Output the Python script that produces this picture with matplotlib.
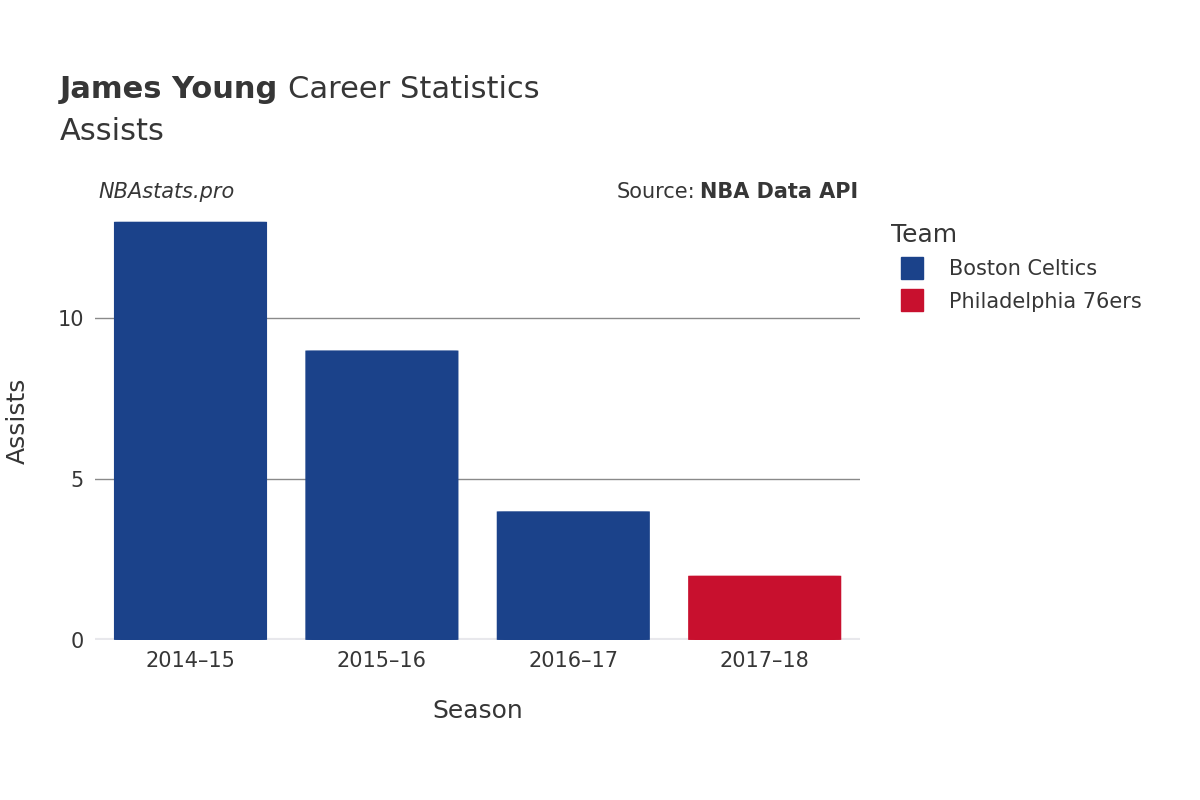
import matplotlib
matplotlib.use("Agg")
import matplotlib.pyplot as plt
from matplotlib.patches import FancyBboxPatch
from matplotlib.lines import Line2D

seasons = ["2014–15", "2015–16", "2016–17", "2017–18"]
assists = [13, 9, 4, 2]
teams = ["Boston Celtics", "Boston Celtics", "Boston Celtics", "Philadelphia 76ers"]
team_colors = {"Boston Celtics": "#1b428a", "Philadelphia 76ers": "#c8102e"}
legend_teams = ["Boston Celtics", "Philadelphia 76ers"]

txt = "#363636"
fig = plt.figure(figsize=(12, 8), dpi=100)
ax = fig.add_axes([0.079, 0.2, 0.638, 0.547])
ax.set_xlim(-0.5, 3.5)
ax.set_ylim(0, 13.6)

for y in (5, 10):
    ax.axhline(y, color="#8a8a8a", lw=1, zorder=0)
ax.axhline(0, color="#e8e8ec", lw=3, zorder=1)

w = 0.8
for i, (v, t) in enumerate(zip(assists, teams)):
    ax.add_patch(FancyBboxPatch((i - w / 2, 0), w, v,
                                boxstyle="round,pad=0,rounding_size=0.04",
                                mutation_aspect=1 / 8,
                                fc=team_colors[t], ec="none", zorder=2))

ax.set_xticks(range(len(seasons)))
ax.set_xticklabels(seasons)
ax.set_yticks([0, 5, 10])
ax.tick_params(length=0, labelsize=15, colors=txt, pad=8)
for s in ax.spines.values():
    s.set_visible(False)
ax.set_xlabel("Season", fontsize=18, color=txt, labelpad=20)
ax.set_ylabel("Assists", fontsize=18, color=txt, labelpad=20)

# title
r = fig.canvas.get_renderer()
t1 = fig.text(60 / 1200, 1 - 89 / 800, "James Young", fontsize=22, weight="bold", color=txt, va="center")
bb = t1.get_window_extent(r)
fig.text(bb.x1 / 1200 + 0.008, 1 - 89 / 800, "Career Statistics", fontsize=22, color=txt, va="center")
fig.text(60 / 1200, 1 - 132 / 800, "Assists", fontsize=22, color=txt, va="center")

fig.text(98 / 1200, 1 - 192 / 800, "NBAstats.pro", fontsize=15, style="italic", color=txt, va="center")
s2 = fig.text(858 / 1200, 1 - 192 / 800, "NBA Data API", fontsize=15, weight="bold", color=txt, va="center", ha="right")
bb2 = s2.get_window_extent(r)
fig.text(bb2.x0 / 1200 - 0.004, 1 - 192 / 800, "Source:", fontsize=15, color=txt, va="center", ha="right")

handles = [Line2D([], [], marker="s", ls="none", markersize=16, color=team_colors[t]) for t in legend_teams]
leg = fig.legend(handles, legend_teams, loc="upper left", bbox_to_anchor=(0.727, 0.745),
                 frameon=False, fontsize=15, title="Team", title_fontsize=18,
                 labelspacing=0.6, handletextpad=0.8, alignment="left")
for tx in leg.get_texts():
    tx.set_color(txt)
leg.get_title().set_color(txt)

fig.savefig("out.png", dpi=100, facecolor="white")
